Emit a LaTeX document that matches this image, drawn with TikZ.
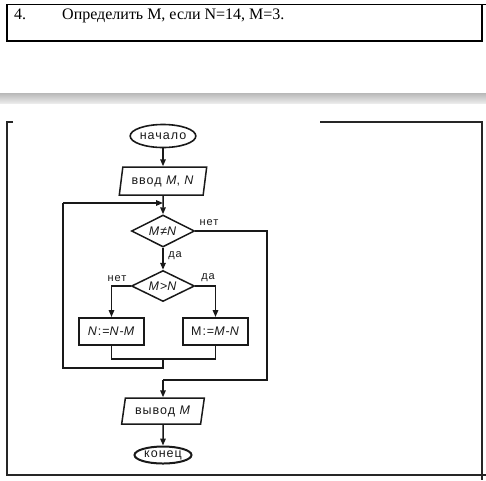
\documentclass[tikz,border=0pt]{standalone}
\usepackage{fontspec}
\setmainfont{Liberation Serif}
\newfontfamily\fcfont[LetterSpace=8]{Liberation Sans}
\usetikzlibrary{shapes.geometric,arrows.meta}
\begin{document}
\begin{tikzpicture}[x=1pt,y=-1pt,
  frameline/.style={line width=1.4pt,draw=black!85},
  conn/.style={line width=1.5pt,draw=black!90},
  arr/.style={conn,-{Triangle[length=7pt,width=5.5pt]}},
  fc/.style={font=\fcfont\fontsize{12.5}{14}\selectfont,text=black!90},
  lbl/.style={font=\fcfont\fontsize{11}{13}\selectfont,text=black!90,inner sep=0pt},
  term/.style={fc,ellipse,draw=black!90,line width=1.6pt,inner sep=0pt},
  io/.style={fc,trapezium,trapezium left angle=76,trapezium right angle=104,trapezium stretches=true,draw=black!90,line width=1.5pt,inner sep=0pt},
  proc/.style={fc,rectangle,draw=black!90,line width=2pt,inner sep=0pt},
  dec/.style={fc,diamond,aspect=2,draw=black!90,line width=1.5pt,inner sep=1pt}
]
\useasboundingbox (0,0) rectangle (486,480);
% top table
\draw[line width=1.4pt] (7,4.5) rectangle (482,41);
\draw[line width=1.4pt] (482,4.5) -- (486,4.5);
\node[anchor=base west,font=\fontsize{16}{18}\selectfont,inner sep=0pt] (num) at (14,19.5) {4.};
\node[anchor=base west,font=\fontsize{16}{18}\selectfont,inner sep=0pt] (task) at (62,19.5) {Определить М, если N=14, M=3.};
% gray band
\shade[top color=black!28,bottom color=black!8] (0,93) rectangle (486,103);
% lower frame
\draw[frameline] (13,122) -- (7,122) -- (7,475) -- (486,475);
\draw[frameline] (320,122) -- (482,122) -- (482,480);
% nodes
\node[term,minimum width=65pt,minimum height=23pt] (start) at (163,136) {начало};
\node[io,minimum width=88pt,minimum height=28pt] (in) at (163,181) {ввод \textit{M}, \textit{N}};
\node[dec,minimum width=63pt,minimum height=32pt] (d1) at (163,231) {\textit{M}≠\textit{N}};
\node[dec,minimum width=63pt,minimum height=31pt] (d2) at (163,286) {\textit{M}>\textit{N}};
\node[proc,minimum width=65pt,minimum height=27pt] (b1) at (111.5,331.5) {\textit{N}:=\textit{N}-\textit{M}};
\node[proc,minimum width=65pt,minimum height=27pt] (b2) at (215.5,331.5) {M:=\textit{M}-\textit{N}};
\node[io,minimum width=83pt,minimum height=26pt] (out) at (163,411) {вывод \textit{M}};
\node[term,minimum width=57pt,minimum height=17pt,line width=2pt] (end) at (163,455) {конец};
% coordinates
\coordinate (mrg) at (163,203);
\coordinate (lt) at (63,203);
\coordinate (jn) at (163,359);
\coordinate (jb) at (163,368);
\coordinate (lb) at (63,368);
\coordinate (rx) at (267,380);
\coordinate (ox) at (163,380);
% connectors
\draw[arr] (start) -- (in);
\draw[arr] (in) -- (d1);
\draw[arr] (d1) -- (d2);
\draw[arr] (d2.west) -| (b1.north);
\draw[arr] (d2.east) -| (b2.north);
\draw[conn] (b1.south) |- (jn) -| (b2.south);
\draw[conn] (jn) -- (jb) -- (lb) -- (lt);
\draw[arr] (lt) -- (mrg);
\draw[conn] (d1.east) -| (rx) -- (ox);
\draw[arr] (ox) -- (out);
\draw[arr] (out) -- (end);
% labels
\node[lbl] (l1) at (209,223) {нет};
\node[lbl] (l2) at (175,256) {да};
\node[lbl] (l3) at (117,279) {нет};
\node[lbl] (l4) at (208,278) {да};
\end{tikzpicture}
\end{document}
